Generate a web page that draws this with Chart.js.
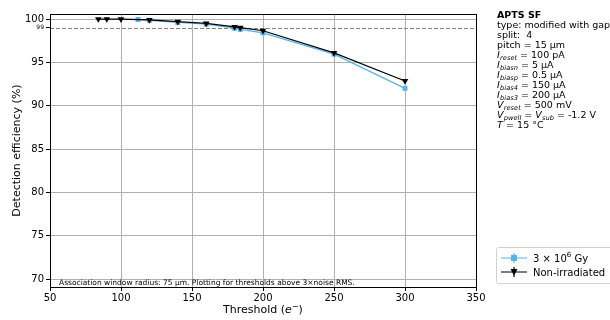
<!DOCTYPE html>
<html>
<head>
<meta charset="utf-8">
<script src="https://cdn.jsdelivr.net/npm/chart.js@4"></script>
<style>
  html, body { margin: 0; padding: 0; background: #fff; }
  #wrap { width: 610px; height: 320px; position: relative; }
</style>
</head>
<body>
<div id="wrap"><canvas id="c" width="610" height="320"></canvas></div>
<script>
// thresholds (e-) and efficiencies (%)
const irrThr = [112, 120, 140, 160, 180, 184, 200, 250, 300];
const irrEff = [99.95, 99.85, 99.6, 99.4, 98.95, 98.8, 98.4, 95.95, 92.0];
const nonThr = [84, 90, 100, 120, 140, 160, 180, 184, 200, 250, 300];
const nonEff = [100, 100, 99.98, 99.9, 99.7, 99.5, 99.1, 99.0, 98.65, 96.1, 92.85];
const xTicks = [50, 100, 150, 200, 250, 300, 350];
const yTicks = [70, 75, 80, 85, 90, 95, 99, 100];
const refLine = 99;

const BLUE = "#56b4e9";
const FONT = "DejaVu Sans";

const info = [
  { bold: "APTS SF" },
  { text: "type: modified with gap" },
  { text: "split:  4" },
  { text: "pitch = 15 µm" },
  { sym: "I", sub: "reset", text: " = 100 pA" },
  { sym: "I", sub: "biasn", text: " = 5 µA" },
  { sym: "I", sub: "biasp", text: " = 0.5 µA" },
  { sym: "I", sub: "bias4", text: " = 150 µA" },
  { sym: "I", sub: "bias3", text: " = 200 µA" },
  { sym: "V", sub: "reset", text: " = 500 mV" },
  { sym: "V", sub: "pwell", text: " = ", sym2: "V", sub2: "sub", text2: " = -1.2 V" },
  { sym: "T", text: " = 15 °C" },
];

const legendItems = [
  { label: "3 × 10", sup: "6", rest: " Gy", color: BLUE, marker: "rect" },
  { label: "Non-irradiated", color: "#000", marker: "tri" },
];

function drawMarker(ctx, kind, x, y, color) {
  ctx.fillStyle = color;
  if (kind === "rect") {
    ctx.fillRect(x - 3, y - 3, 6, 6);
  } else {
    ctx.beginPath();
    ctx.moveTo(x - 3.5, y - 3);
    ctx.lineTo(x + 3.5, y - 3);
    ctx.lineTo(x, y + 3.5);
    ctx.closePath();
    ctx.fill();
  }
}

const extras = {
  id: "extras",
  beforeDatasetsDraw(chart) {
    const { ctx, chartArea: a, scales } = chart;
    const y = scales.y.getPixelForValue(refLine);
    ctx.save();
    ctx.strokeStyle = "#808080";
    ctx.lineWidth = 1;
    ctx.setLineDash([4, 2]);
    ctx.beginPath();
    ctx.moveTo(a.left, Math.round(y) + 0.5);
    ctx.lineTo(a.right, Math.round(y) + 0.5);
    ctx.stroke();
    ctx.restore();
  },
  afterDraw(chart) {
    const { ctx, chartArea: a } = chart;
    ctx.save();
    // frame
    ctx.strokeStyle = "#000";
    ctx.lineWidth = 1;
    ctx.strokeRect(Math.round(a.left) + 0.5, Math.round(a.top) + 0.5,
      Math.round(a.right - a.left), Math.round(a.bottom - a.top));

    // note at bottom of plot
    ctx.font = `7.5px ${FONT}`;
    ctx.fillStyle = "#000";
    ctx.textBaseline = "alphabetic";
    ctx.fillText("Association window radius: 75 µm. Plotting for thresholds above 3×noise RMS.", a.left + 9, a.bottom - 2);

    // x axis title with italic e and superscript minus
    {
      const parts = [
        { t: "Threshold (", f: `11px ${FONT}`, dy: 0 },
        { t: "e", f: `italic 11px ${FONT}`, dy: 0 },
        { t: "−", f: `8px ${FONT}`, dy: -4 },
        { t: ")", f: `11px ${FONT}`, dy: 0 },
      ];
      let w = 0;
      parts.forEach((p) => { ctx.font = p.f; w += ctx.measureText(p.t).width; });
      let x = (a.left + a.right) / 2 - w / 2;
      parts.forEach((p) => {
        ctx.font = p.f;
        ctx.fillText(p.t, x, 313 + p.dy);
        x += ctx.measureText(p.t).width;
      });
    }

    // info text block
    const fs = 9.5;
    let x0 = 497, y0 = 18;
    info.forEach((ln, i) => {
      let x = x0;
      const yy = y0 + i * 10.0;
      if (ln.bold) {
        ctx.font = `bold ${fs}px ${FONT}`;
        ctx.fillText(ln.bold, x, yy);
        return;
      }
      const part = (sym, sub) => {
        ctx.font = `italic ${fs}px ${FONT}`;
        ctx.fillText(sym, x, yy);
        x += ctx.measureText(sym).width + 0.3;
        if (sub) {
          ctx.font = `italic ${fs * 0.7}px ${FONT}`;
          ctx.fillText(sub, x, yy + 2);
          x += ctx.measureText(sub).width;
        }
      };
      if (ln.sym) part(ln.sym, ln.sub);
      ctx.font = `${fs}px ${FONT}`;
      ctx.fillText(ln.text, x, yy);
      x += ctx.measureText(ln.text).width;
      if (ln.sym2) {
        part(ln.sym2, ln.sub2);
        ctx.font = `${fs}px ${FONT}`;
        ctx.fillText(ln.text2, x, yy);
      }
    });

    // legend
    ctx.strokeStyle = "#d0d0d0";
    ctx.lineWidth = 1;
    ctx.beginPath();
    ctx.roundRect(496.5, 247.5, 120, 36, 2);
    ctx.fillStyle = "rgba(255,255,255,0.8)";
    ctx.fill();
    ctx.stroke();
    legendItems.forEach((it, i) => {
      const ly = 258 + i * 14;
      ctx.strokeStyle = it.color;
      ctx.lineWidth = 1.2;
      ctx.beginPath();
      ctx.moveTo(501, ly);
      ctx.lineTo(527, ly);
      ctx.moveTo(514, ly - 5);
      ctx.lineTo(514, ly + 5);
      ctx.stroke();
      drawMarker(ctx, it.marker, 514, ly, it.color);
      ctx.fillStyle = "#000";
      ctx.font = `10px ${FONT}`;
      let x = 533;
      ctx.fillText(it.label, x, ly + 4);
      x += ctx.measureText(it.label).width;
      if (it.sup) {
        ctx.font = `7px ${FONT}`;
        ctx.fillText(it.sup, x, ly - 1);
        x += ctx.measureText(it.sup).width;
        ctx.font = `10px ${FONT}`;
        ctx.fillText(it.rest, x, ly + 4);
      }
    });
    ctx.restore();
  },
};

function toPts(xs, ys) {
  return xs.map((x, i) => ({ x, y: ys[i] }));
}

new Chart(document.getElementById("c"), {
  type: "line",
  data: {
    datasets: [
      {
        label: "3 × 10^6 Gy",
        data: toPts(irrThr, irrEff),
        borderColor: BLUE,
        backgroundColor: BLUE,
        borderWidth: 1.2,
        pointStyle: "rect",
        pointRadius: 3.5,
        pointBorderWidth: 0,
        order: 1,
      },
      {
        label: "Non-irradiated",
        data: toPts(nonThr, nonEff),
        borderColor: "#000",
        backgroundColor: "#000",
        borderWidth: 1.2,
        pointStyle: "triangle",
        rotation: 180,
        pointRadius: 3.8,
        pointBorderWidth: 0,
        order: 0,
      },
    ],
  },
  options: {
    responsive: false,
    animation: false,
    events: [],
    layout: { padding: { top: 14, right: 134, left: 0, bottom: 0 } },
    plugins: { legend: { display: false }, tooltip: { enabled: false } },
    scales: {
      x: {
        type: "linear",
        min: 50,
        max: 350,
        afterBuildTicks: (s) => { s.ticks = xTicks.map((v) => ({ value: v })); },
        afterFit: (s) => { s.height = 33; },
        ticks: { color: "#000", font: { family: FONT, size: 10 }, padding: 1, maxRotation: 0 },
        grid: { color: "#b0b0b0", tickColor: "#000", tickLength: 4, lineWidth: 1 },
        border: { display: false },
      },
      y: {
        min: 69.08,
        max: 100.58,
        afterBuildTicks: (s) => { s.ticks = yTicks.map((v) => ({ value: v })); },
        afterFit: (s) => { s.width = 50; },
        ticks: {
          color: "#000",
          padding: 2,
          font: (c) => ({ family: FONT, size: c.tick && c.tick.value === refLine ? 6 : 10 }),
        },
        grid: {
          color: (c) => (c.tick && c.tick.value === refLine ? "rgba(0,0,0,0)" : "#b0b0b0"),
          tickColor: "#000",
          tickLength: 4,
        },
        border: { display: false },
        title: { display: true, text: "Detection efficiency (%)", color: "#000", font: { family: FONT, size: 11 }, padding: { top: 11, bottom: 0 } },
      },
    },
  },
  plugins: [extras],
});
</script>
</body>
</html>
